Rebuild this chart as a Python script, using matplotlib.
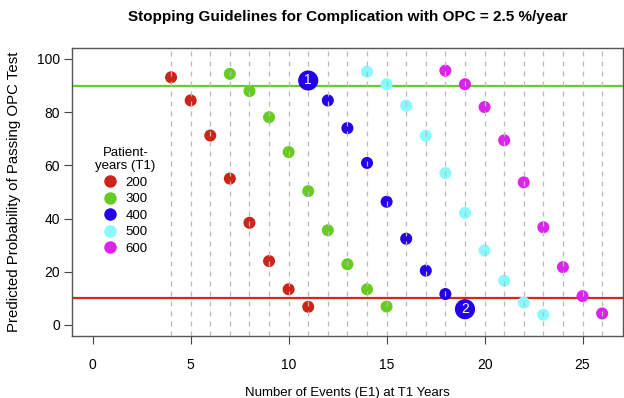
import numpy as np
import matplotlib
matplotlib.use("Agg")
import matplotlib.pyplot as plt
from matplotlib.lines import Line2D

plt.rcParams["font.family"] = ["Liberation Sans", "DejaVu Sans"]

# patient-years groups and their event counts / predicted probabilities
groups = ["200", "300", "400", "500", "600"]
colors = ["#CC2418", "#66CC22", "#2200EE", "#88FAFF", "#DD22EE"]

events_200 = [4, 5, 6, 7, 8, 9, 10, 11]
prob_200 = [93.1, 84.4, 71.2, 55.0, 38.4, 24.0, 13.4, 6.8]

events_300 = [7, 8, 9, 10, 11, 12, 13, 14, 15]
prob_300 = [94.4, 87.9, 78.1, 65.0, 50.3, 35.6, 22.8, 13.4, 6.9]

events_400 = [11, 12, 13, 14, 15, 16, 17, 18, 19]
prob_400 = [91.9, 84.4, 74.0, 60.9, 46.3, 32.4, 20.4, 11.6, 5.9]

events_500 = [14, 15, 16, 17, 18, 19, 20, 21, 22, 23]
prob_500 = [95.2, 90.5, 82.4, 71.1, 57.1, 42.1, 28.0, 16.6, 8.4, 3.8]

events_600 = [18, 19, 20, 21, 22, 23, 24, 25, 26]
prob_600 = [95.6, 90.5, 81.9, 69.4, 53.6, 36.7, 21.7, 10.8, 4.3]

# highlighted points (group 400)
hl_labels = ["1", "2"]
hl_events = [11, 19]
hl_probs = [91.9, 5.9]

upper_limit = 90
lower_limit = 10
grid_events = list(range(4, 27))

series = [(events_200, prob_200), (events_300, prob_300), (events_400, prob_400),
          (events_500, prob_500), (events_600, prob_600)]

fig = plt.figure(figsize=(6.24, 3.98), dpi=100)
ax = fig.add_axes([0.1159, 0.157, 0.8817, 0.7216])

for (ev, pr), col in zip(series, colors):
    ax.scatter(ev, pr, s=75, color=col, edgecolors="none", zorder=2)

ax.axhline(upper_limit, color="#66CC33", lw=1.6, zorder=1)
ax.axhline(lower_limit, color="#DD2222", lw=1.6, zorder=1)

for g in grid_events:
    ax.axvline(g, color="#BBBBBB", lw=0.9, ls=(0, (4, 4)), zorder=3)

# big numbered points on top of the grid
for lab, ev, pr in zip(hl_labels, hl_events, hl_probs):
    ax.scatter([ev], [pr], s=210, color=colors[2], edgecolors="none", zorder=4)
    ax.text(ev, pr, lab, color="white", ha="center", va="center",
            fontsize=10, zorder=5)

ax.set_xlim(-1.04, 27.04)
ax.set_ylim(-4, 104)
ax.set_xticks([0, 5, 10, 15, 20, 25])
ax.set_yticks([0, 20, 40, 60, 80, 100])
ax.tick_params(axis="both", labelsize=10, length=6, color="#444444", pad=3)
ax.tick_params(axis="x", pad=10)
for sp in ax.spines.values():
    sp.set_color("#555555")
    sp.set_linewidth(1.0)

ax.set_title("Stopping Guidelines for Complication with OPC = 2.5 %/year",
             fontsize=11, fontweight="bold", pad=20)
ax.set_xlabel("Number of Events (E1) at T1 Years", fontsize=9.5, labelpad=11)
ax.set_ylabel("Predicted Probability of Passing OPC Test", fontsize=10.8, labelpad=11)

handles = [Line2D([], [], marker="o", ls="none", markersize=9,
                  markerfacecolor=c, markeredgecolor="none") for c in colors]
leg = ax.legend(handles, groups, title="Patient-\nyears (T1)", frameon=False,
                fontsize=9.5, title_fontsize=9.5, loc="upper left",
                bbox_to_anchor=(0.025, 0.69), handletextpad=0.7,
                labelspacing=0.32, handlelength=1.0, borderpad=0.2)
leg.get_title().set_multialignment("center")

fig.savefig("out.png", dpi=100)
